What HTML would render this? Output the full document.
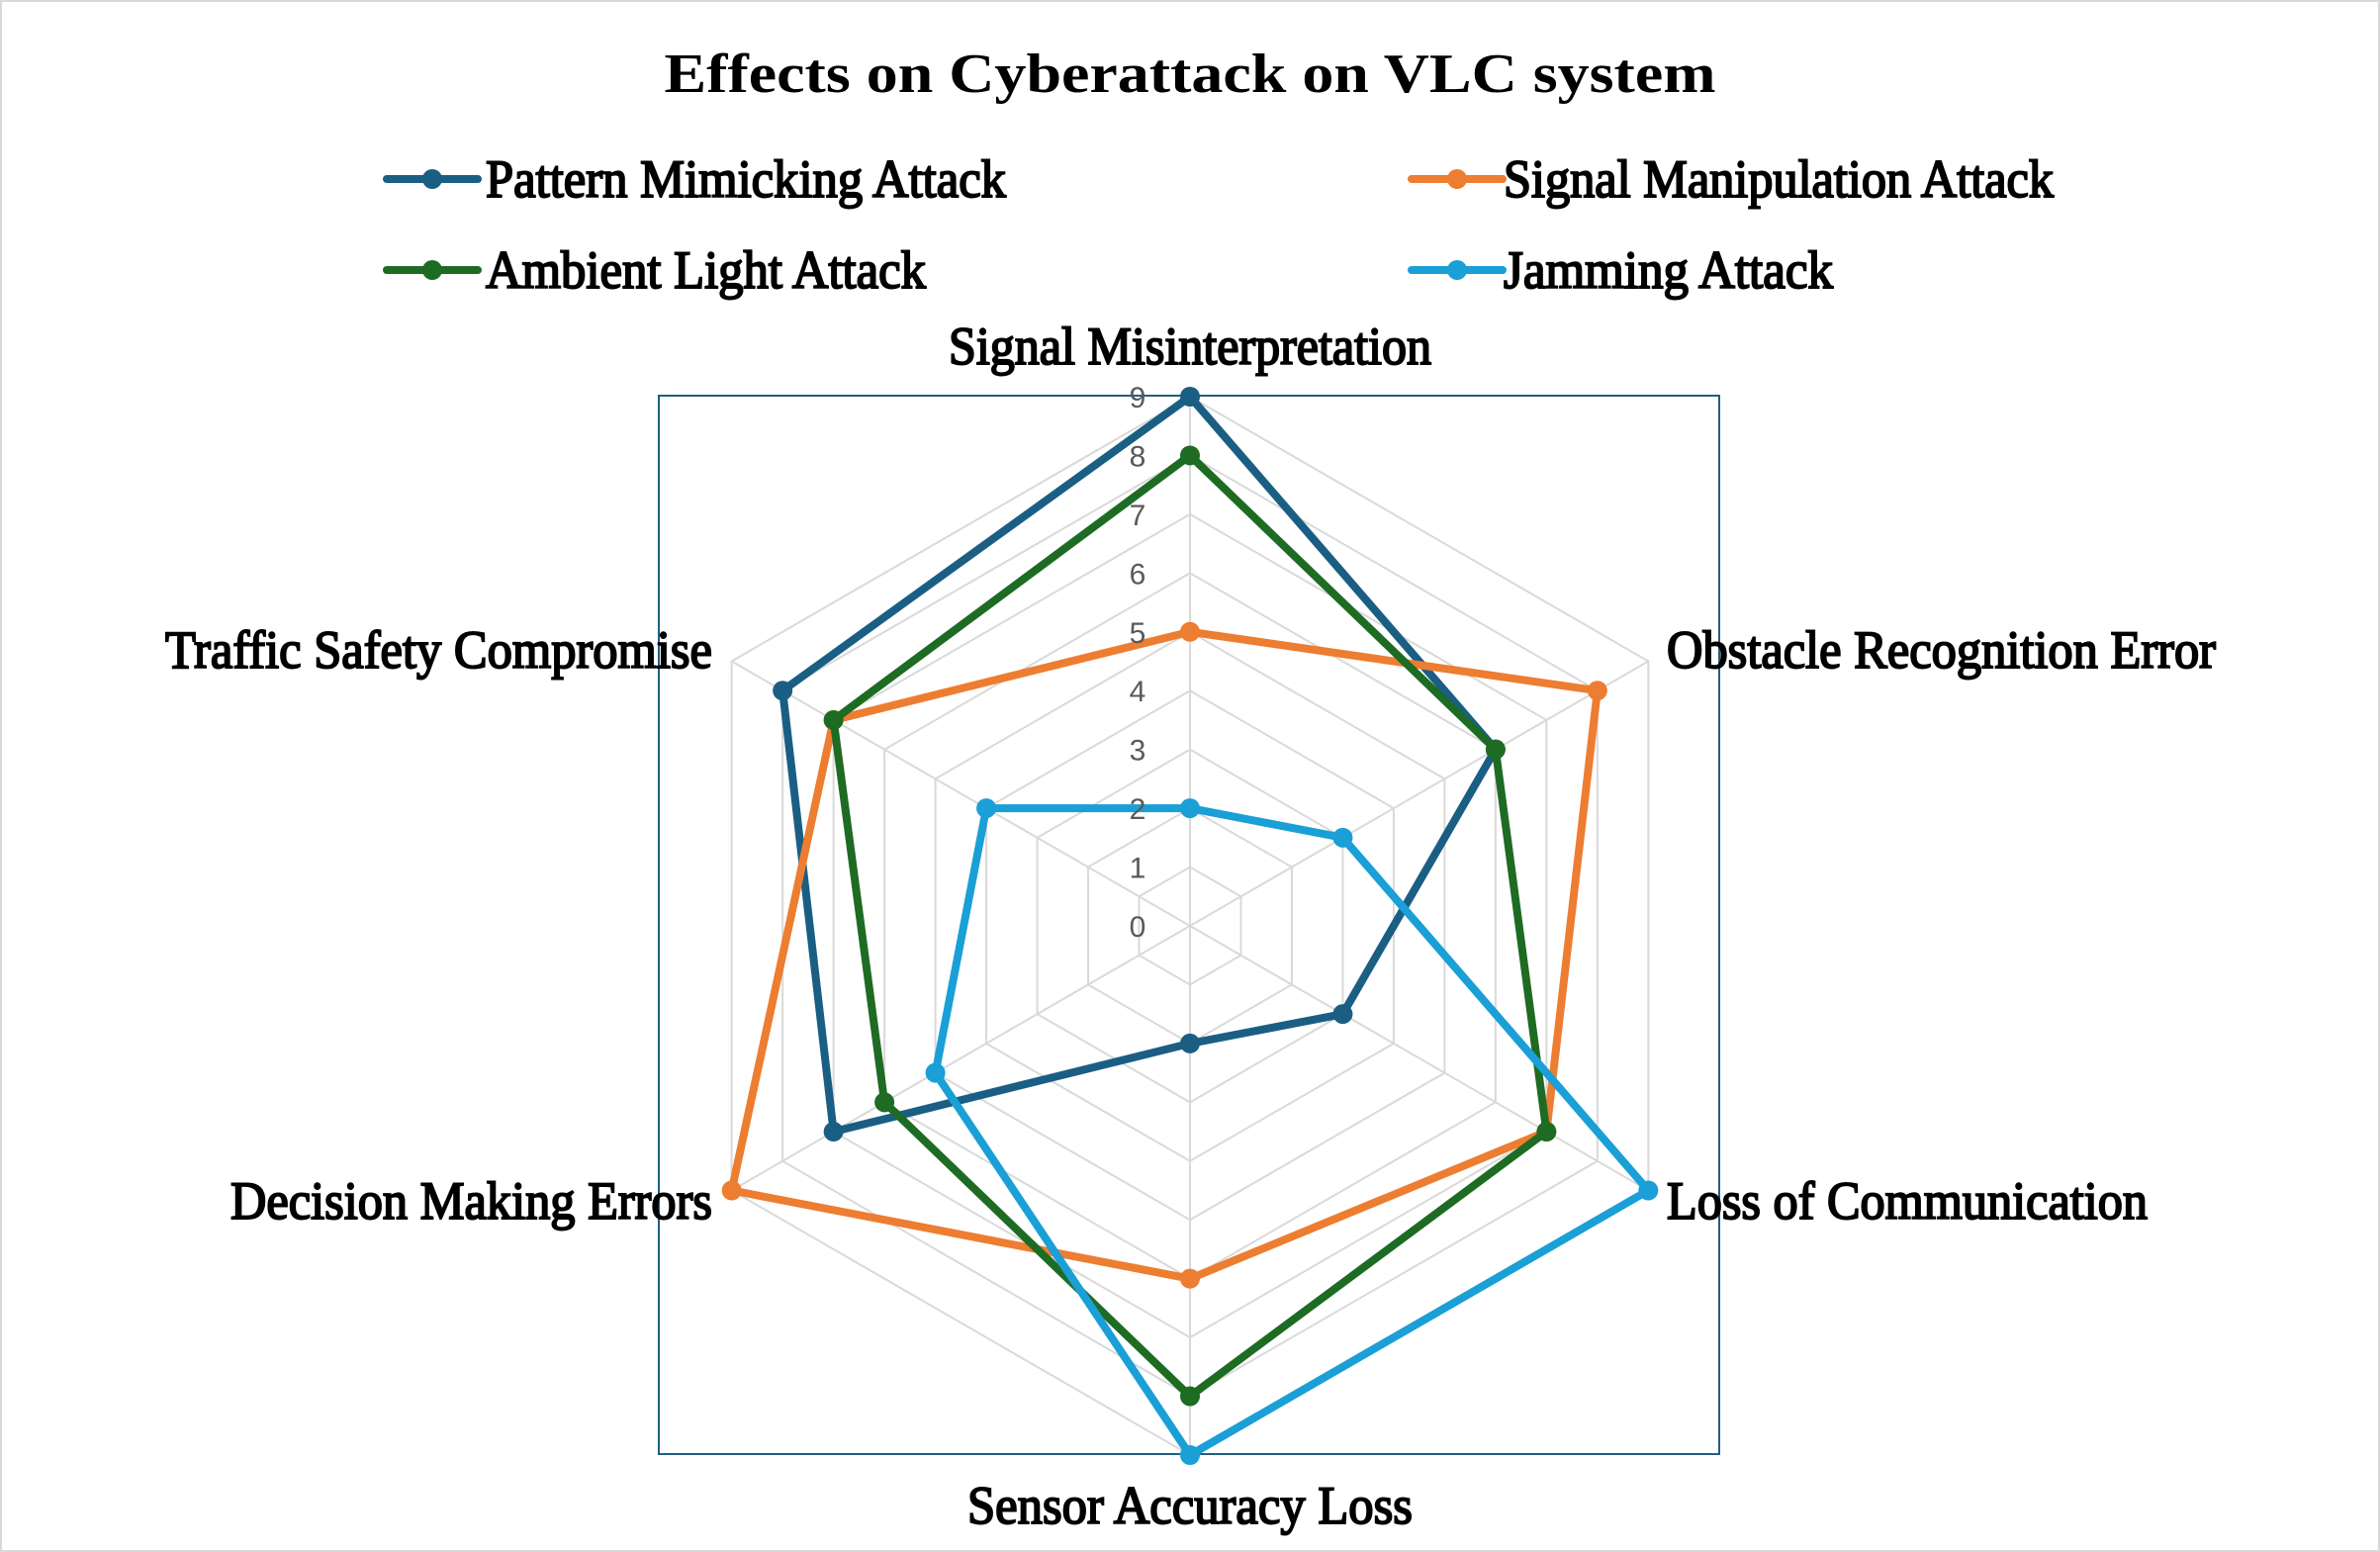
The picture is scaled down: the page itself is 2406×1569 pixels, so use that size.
<!DOCTYPE html>
<html><head><meta charset="utf-8"><style>
html,body{margin:0;padding:0;background:#fff}
svg{display:block}
text{font-family:"Liberation Serif",serif;fill:#000}
</style></head><body>
<svg id="chart" width="2406" height="1569" viewBox="0 0 2406 1569" xmlns="http://www.w3.org/2000/svg">
<rect x="1" y="1" width="2404" height="1567" fill="#fff" stroke="#d9d9d9" stroke-width="2"/>
<text x="1203" y="93" text-anchor="middle" font-size="56" font-weight="bold" textLength="1063" lengthAdjust="spacingAndGlyphs">Effects on Cyberattack on VLC system</text>
<rect x="666" y="400" width="1072" height="1070" fill="none" stroke="#1f5f82" stroke-width="2"/>
<g id="grid"></g><g id="series"></g><g id="labels"></g><g id="legend"></g>
</svg>
<script>
const categories = ["Signal Misinterpretation","Obstacle Recognition Error","Loss of Communication","Sensor Accuracy Loss","Decision Making Errors","Traffic Safety Compromise"];
const seriesNames = ["Pattern Mimicking Attack","Signal Manipulation Attack","Ambient Light Attack","Jamming Attack"];
const patternValues = [9,6,3,2,7,8];
const manipulationValues = [5,8,7,6,9,7];
const ambientValues = [8,6,7,8,6,7];
const jammingValues = [2,3,9,9,5,4];
const tickLabels = [0,1,2,3,4,5,6,7,8,9];
const seriesColors = ["#1b5e84","#ed7d31","#1e6b24","#1a9fd6"];
const allValues = [patternValues, manipulationValues, ambientValues, jammingValues];

const NS = "http://www.w3.org/2000/svg";
const cx = 1203, cy = 936, R = 535, maxV = 9;
function rScale(v){ return v / maxV * R; }
function pt(i, v){ const a = -Math.PI/2 + i*2*Math.PI/categories.length; return [cx + rScale(v)*Math.cos(a), cy + rScale(v)*Math.sin(a)]; }
function mk(tag, attrs, parent){ const e=document.createElementNS(NS,tag); for(const k in attrs) e.setAttribute(k,attrs[k]); parent.appendChild(e); return e; }

const grid = document.getElementById('grid');
tickLabels.forEach(t => {
  if (t === 0) return;
  const pts = categories.map((c,i)=>pt(i,t).join(',')).join(' ');
  const g = mk('polygon',{points:pts,fill:'none',stroke:'#d9d9d9','stroke-width':2},grid);
  
  
});
categories.forEach((c,i)=>{
  const p = pt(i,maxV);
  const l = mk('line',{x1:cx,y1:cy,x2:p[0],y2:p[1],stroke:'#d9d9d9','stroke-width':2},grid);
  
  
});

const series = document.getElementById('series');
allValues.forEach((vals, s) => {
  const g = mk('g',{},series);
  
  
  const pts = vals.map((v,i)=>pt(i,v).join(',')).join(' ');
  const poly = mk('polygon',{points:pts,fill:'none',stroke:seriesColors[s],'stroke-width':8,'stroke-linejoin':'round'},g);
  
  
  vals.forEach((v,i)=>{
    const p = pt(i,v);
    const m = mk('circle',{cx:p[0],cy:p[1],r:10,fill:seriesColors[s]},g);
    
    
  });
});

const labels = document.getElementById('labels');
tickLabels.forEach(t=>{
  const y = cy - rScale(t);
  const e = mk('text',{x:1150,y:y+11,'text-anchor':'middle','font-size':30,style:'font-family:"Liberation Sans",sans-serif;fill:#595959'},labels);
  e.textContent = t;
  
  
});
const catPos = [[1203,368,'middle',488],[1685,675,'start',555],[1685,1232,'start',486],[1203,1540,'middle',450],[720,1232,'end',487],[720,675,'end',553]];
categories.forEach((c,i)=>{
  const [x,y,anch,w] = catPos[i];
  const e = mk('text',{x:x,y:y,'text-anchor':anch,'font-size':54,stroke:'#000','stroke-width':2,textLength:w,lengthAdjust:'spacingAndGlyphs'},labels);
  e.textContent = c;
  
  
});

const legend = document.getElementById('legend');
const legPos = [[391,181,526],[1427,181,556],[391,273,445],[1427,273,333]];
seriesNames.forEach((n,s)=>{
  const [x,y,w] = legPos[s];
  const g = mk('g',{},legend);
  
  
  mk('line',{x1:x,y1:y,x2:x+92,y2:y,stroke:seriesColors[s],'stroke-width':8,'stroke-linecap':'round'},g);
  mk('circle',{cx:x+46,cy:y,r:10,fill:seriesColors[s]},g);
  const tx = s % 2 === 1 ? x + 93 : x + 100;
  const t = mk('text',{x:tx,y:y+18,'font-size':54,stroke:'#000','stroke-width':2,textLength:w,lengthAdjust:'spacingAndGlyphs'},g);
  t.textContent = n;
  
  
});
</script>
</body></html>
